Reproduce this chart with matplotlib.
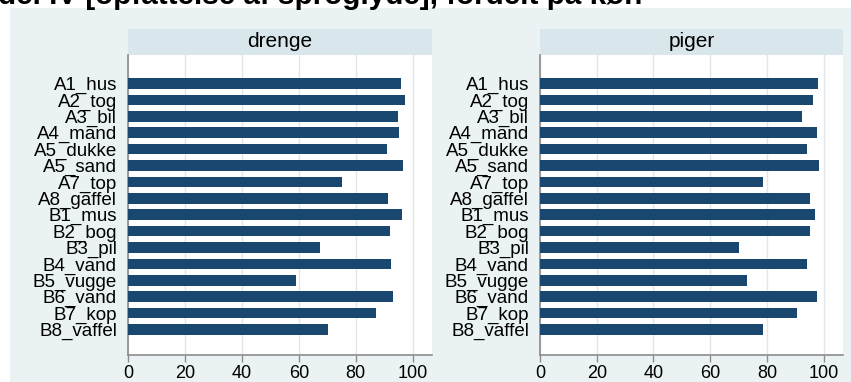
import numpy as np
import matplotlib.pyplot as plt
from matplotlib.patches import Rectangle

plt.rcParams['font.family'] = ['Liberation Sans', 'DejaVu Sans']

items = ['A1_hus', 'A2_tog', 'A3_bil', 'A4_mand', 'A5_dukke', 'A5_sand', 'A7_top',
         'A8_gaffel', 'B1_mus', 'B2_bog', 'B3_pil', 'B4_vand', 'B5_vugge',
         'B6_vand', 'B7_kop', 'B8_vaffel']
drenge = [95.8, 97.3, 94.9, 95.2, 90.9, 96.5, 75.2, 91.4,
          96.3, 92.2, 67.4, 92.5, 59.0, 93.2, 87.2, 70.3]
piger = [97.9, 96.2, 92.5, 97.6, 94.0, 98.4, 78.5, 95.3,
         96.8, 95.3, 70.0, 94.0, 73.1, 97.6, 90.5, 78.5]
panels = ['drenge', 'piger']
xticks = [0, 20, 40, 60, 80, 100]

bar_color = '#1a476f'
bg_color = '#eaf2f3'
strip_color = '#d9e6eb'
grid_color = '#dfe7ea'
axis_color = '#8c8c8c'

W, H = 851, 382
fig = plt.figure(figsize=(W / 100, H / 100), dpi=100)
fig.patches.append(Rectangle((10 / W, 0), 1 - 10 / W, 1 - 8 / H,
                             transform=fig.transFigure, facecolor=bg_color,
                             edgecolor='none', zorder=-5))

# title, cut off at the top edge like in the source image
fig.text(-0.002, 1 - 4.5 / H, 'del IV [opfattelse af sproglyde], fordelt på køn',
         fontsize=21.3, fontweight='bold', ha='left', va='baseline')


def panel(left, right, values, name):
    ax = fig.add_axes([left / W, 1 - 355 / H, (right - left) / W, 300 / H])
    y = np.arange(len(items))
    ax.barh(y, values, height=0.65, color=bar_color, zorder=3)
    ax.set_yticks(y)
    ax.set_yticklabels(items, fontsize=13.5)
    ax.set_ylim(len(items) - 1 + 1.56, -1.74)
    ax.set_xlim(0, 106.8)
    ax.set_xticks(xticks)
    ax.set_xticklabels([str(t) for t in xticks], fontsize=13)
    ax.grid(axis='x', color=grid_color, linewidth=1, zorder=0)
    ax.set_axisbelow(True)
    for s in ['top', 'right']:
        ax.spines[s].set_visible(False)
    for s in ['left', 'bottom']:
        ax.spines[s].set_color(axis_color)
        ax.spines[s].set_linewidth(1.2)
    ax.tick_params(axis='y', length=0, pad=8)
    ax.tick_params(axis='x', length=5, color=axis_color, width=1, pad=2)
    # strip with panel title
    ax.add_patch(Rectangle((0, 1.0), 1, 26 / 300, transform=ax.transAxes,
                           facecolor=strip_color, edgecolor='none', clip_on=False))
    ax.text(0.5, 1 + 13 / 300, name, transform=ax.transAxes, ha='center',
            va='center', fontsize=15)
    return ax


panel(128, 432, drenge, panels[0])
panel(540, 843, piger, panels[1])

fig.savefig('out.png', dpi=100)
